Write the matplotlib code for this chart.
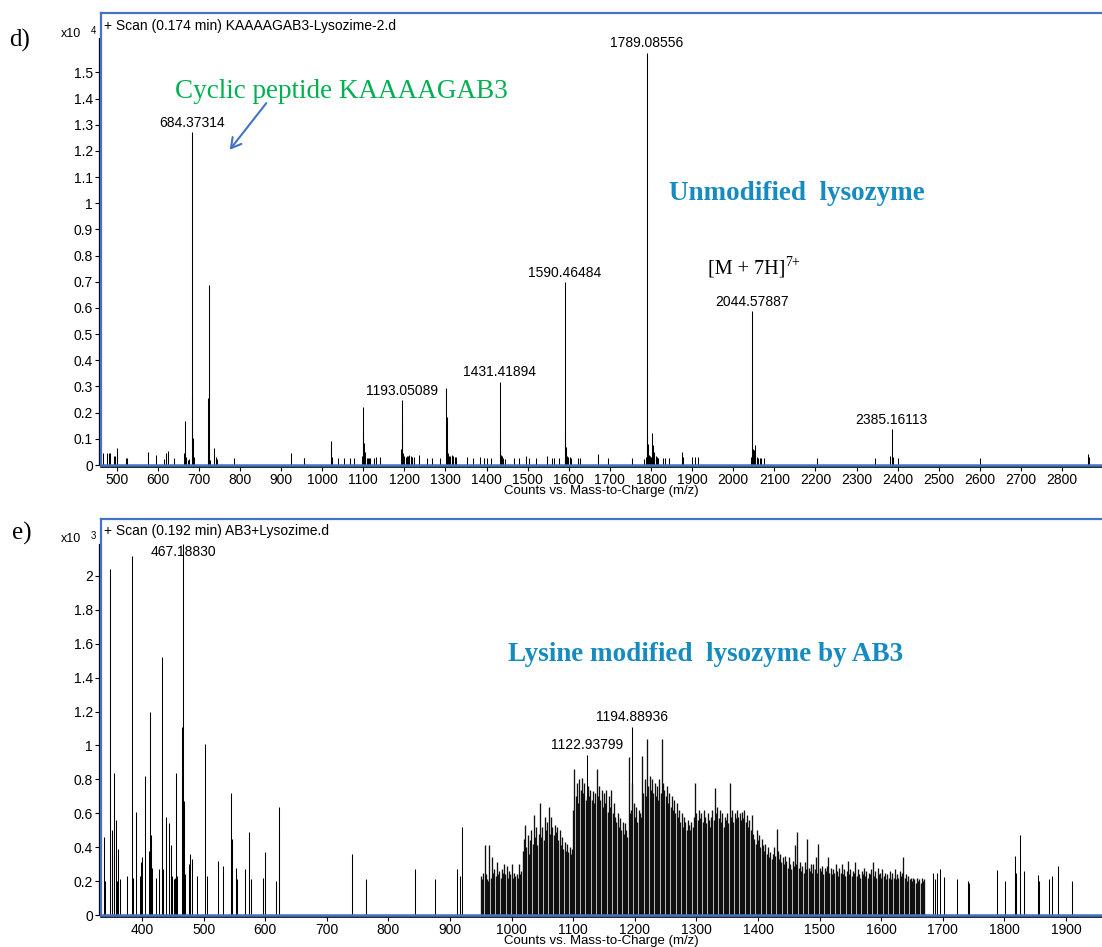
import numpy as np
import matplotlib
matplotlib.use('Agg')
import matplotlib.pyplot as plt
from matplotlib.patches import FancyArrowPatch

W, H = 1102, 947
plt.rcParams['font.family'] = ['Liberation Sans', 'DejaVu Sans']

BLUE = '#4472C4'
GREEN = '#00B050'
TEAL = '#168BC0'

# ---------------- panel d) data (m/z, counts x10^4) ----------------
mz_d = [468, 477, 482, 485, 493, 495, 497, 502, 523, 526,
        577, 597, 615, 620, 626, 639,
        664, 666.5, 668, 673, 677,
        683.4, 684.37314, 685.4, 688,
        722, 723.4, 724.4, 725.4, 728,
        738, 741, 744, 785, 923, 955, 957,
        1021.5, 1022.5, 1024, 1038, 1054, 1067, 1078, 1096,
        1099.6, 1100.5, 1101.5, 1103, 1105, 1108, 1111, 1114, 1117, 1126, 1132, 1140,
        1192.2, 1193.05089, 1194.2, 1195.3, 1197, 1200, 1203, 1206, 1209, 1212, 1215, 1219, 1224, 1236,
        1254, 1267, 1286,
        1300.9, 1301.8, 1302.9, 1304, 1306, 1309, 1312, 1315, 1318, 1322, 1326,
        1352, 1366, 1383, 1394, 1402, 1410,
        1431.41894, 1432.6, 1434, 1437, 1440, 1444,
        1466, 1480, 1495, 1504, 1520, 1546, 1558, 1563, 1577,
        1589.6, 1590.46484, 1591.5, 1592.7, 1594, 1596, 1599, 1602, 1605, 1623, 1628,
        1670, 1695, 1754,
        1784, 1787.5, 1789.08556, 1789.8, 1790.8, 1792, 1793.5, 1795, 1797, 1800, 1802.5, 1804,
        1806, 1808, 1811, 1814, 1818, 1828, 1835, 1844,
        1876, 1878, 1900, 1908, 1915,
        2043.6, 2044.57887, 2045.6, 2047, 2049.5, 2052, 2054, 2057, 2060, 2064, 2068, 2074,
        2203, 2346, 2381, 2385.16113, 2386.5, 2388, 2400, 2600, 2863, 2865]
int_d = [0.045, 0.045, 0.047, 0.047, 0.033, 0.035, 0.030, 0.064, 0.025, 0.025,
         0.050, 0.038, 0.022, 0.047, 0.053, 0.025,
         0.045, 0.168, 0.030, 0.020, 0.023,
         0.264, 1.271, 0.105, 0.030,
         0.035, 0.255, 0.688, 0.065, 0.020,
         0.066, 0.030, 0.022, 0.028, 0.047, 0.028, 0.028,
         0.092, 0.070, 0.030, 0.028, 0.028, 0.028, 0.028, 0.035,
         0.222, 0.127, 0.085, 0.050, 0.030, 0.028, 0.028, 0.028, 0.025, 0.028, 0.030, 0.030,
         0.060, 0.247, 0.175, 0.090, 0.047, 0.035, 0.030, 0.035, 0.035, 0.038, 0.035, 0.030, 0.030, 0.038,
         0.028, 0.028, 0.028,
         0.045, 0.293, 0.182, 0.083, 0.045, 0.035, 0.035, 0.040, 0.035, 0.030, 0.030,
         0.030, 0.028, 0.030, 0.028, 0.028, 0.028,
         0.319, 0.115, 0.040, 0.035, 0.025, 0.022,
         0.025, 0.025, 0.034, 0.028, 0.028, 0.034, 0.025, 0.028, 0.028,
         0.030, 0.698, 0.123, 0.070, 0.045, 0.035, 0.030, 0.030, 0.028, 0.028, 0.028,
         0.042, 0.025, 0.025,
         0.022, 0.030, 1.575, 0.370, 0.120, 0.080, 0.050, 0.040, 0.035, 0.030, 0.124, 0.076,
         0.050, 0.038, 0.035, 0.030, 0.028, 0.028, 0.028, 0.028,
         0.050, 0.030, 0.032, 0.032, 0.032,
         0.030, 0.587, 0.158, 0.060, 0.057, 0.076, 0.040, 0.030, 0.028, 0.028, 0.028, 0.025,
         0.028, 0.028, 0.034, 0.136, 0.047, 0.030, 0.028, 0.028, 0.042, 0.030]
labels_d = [684.37314, 1193.05089, 1431.41894, 1590.46484, 1789.08556, 2044.57887, 2385.16113]

# ---------------- panel e) data (m/z, counts x10^3) ----------------
mz_e_left = [338.5, 339.3, 348.4, 350.9, 351.6, 353.7, 355.0, 357.4, 359.6, 360.6,
             365.0, 376.0, 383.2, 385.0, 390.8, 397.3, 398.9, 399.9, 405.3, 410.7,
             412.3, 413.9, 416.0, 423.0, 427.4, 431.7, 432.8, 434.0, 439.2, 444.6,
             446.4, 447.3, 449.0, 452.0, 454.0, 455.9, 457.0, 465.0, 467.18830, 468.0,
             469.0, 475.8, 477.4, 480.5, 489.0, 502.0, 505.0, 524.0, 531.6, 544.0,
             545.0, 546.2, 552.0, 553.6, 567.0, 574.0, 576.3, 597.0, 599.0, 618.0,
             622.0, 623.0]
int_e_left = [0.46, 0.20, 2.04, 0.50, 0.36, 0.84, 0.20, 0.56, 0.20, 0.39,
              0.21, 0.23, 2.12, 0.22, 0.61, 0.23, 0.31, 0.34, 0.82, 0.38,
              1.20, 0.47, 0.28, 0.22, 0.27, 0.51, 1.52, 0.27, 0.58, 0.54,
              0.33, 0.41, 0.23, 0.21, 0.22, 0.84, 0.23, 1.11, 2.19, 0.67,
              0.24, 0.30, 0.36, 0.33, 0.23, 1.01, 0.23, 0.32, 0.29, 0.72,
              0.36, 0.45, 0.28, 0.21, 0.27, 0.49, 0.21, 0.22, 0.37, 0.20,
              0.64, 0.49]
mz_e_mid = [741.6, 764.0, 843.6, 874.8, 911.6, 917.0, 920.0]
int_e_mid = [0.36, 0.21, 0.27, 0.21, 0.27, 0.23, 0.52]

# unresolved dense envelope 950-1670 (one reading every 2 m/z)
dense_start = 950.0
dense_step = 2.0
dense_int = [
    0.23, 0.21, 0.25, 0.41, 0.24, 0.21, 0.20, 0.41, 0.22, 0.34,
    0.25, 0.27, 0.23, 0.31, 0.24, 0.26, 0.22, 0.27, 0.25, 0.30,
    0.24, 0.29, 0.22, 0.26, 0.24, 0.30, 0.22, 0.25, 0.23, 0.24,
    0.22, 0.30, 0.24, 0.26, 0.38, 0.45, 0.53, 0.40, 0.47, 0.36,
    0.44, 0.50, 0.42, 0.59, 0.46, 0.52, 0.41, 0.48, 0.66, 0.46,
    0.52, 0.44, 0.58, 0.50, 0.55, 0.64, 0.48, 0.58, 0.52, 0.47,
    0.53, 0.49, 0.52, 0.44, 0.50, 0.41, 0.46, 0.39, 0.43, 0.38,
    0.42, 0.37, 0.40, 0.36, 0.39, 0.62, 0.86, 0.70, 0.78, 0.66,
    0.80, 0.74, 0.81, 0.72, 0.78, 0.68, 0.70, 0.76, 0.70, 0.74,
    0.68, 0.73, 0.66, 0.72, 0.86, 0.70, 0.76, 0.68, 0.74, 0.64,
    0.72, 0.66, 0.74, 0.61, 0.70, 0.64, 0.74, 0.60, 0.66, 0.58,
    0.55, 0.60, 0.52, 0.57, 0.50, 0.55, 0.48, 0.54, 0.50, 0.46,
    0.93, 0.60, 0.62, 0.78, 0.66, 0.58, 0.64, 0.55, 0.62, 0.60,
    0.58, 0.94, 0.72, 0.80, 0.70, 1.04, 0.76, 0.82, 0.74, 0.80,
    0.72, 0.78, 0.70, 0.76, 0.68, 0.80, 0.72, 1.04, 0.78, 0.74,
    0.70, 0.76, 0.66, 0.72, 0.64, 0.70, 0.62, 0.68, 0.60, 0.66,
    0.58, 0.62, 0.55, 0.60, 0.52, 0.58, 0.55, 0.50, 0.56, 0.53,
    0.50, 0.55, 0.52, 0.58, 0.78, 0.60, 0.56, 0.62, 0.57, 0.60,
    0.55, 0.62, 0.58, 0.54, 0.60, 0.56, 0.52, 0.58, 0.62, 0.56,
    0.75, 0.60, 0.64, 0.57, 0.62, 0.55, 0.60, 0.52, 0.58, 0.56,
    0.60, 0.54, 0.78, 0.58, 0.62, 0.55, 0.60, 0.57, 0.62, 0.58,
    0.60, 0.56, 0.61, 0.57, 0.62, 0.55, 0.59, 0.52, 0.56, 0.50,
    0.59, 0.48, 0.45, 0.42, 0.50, 0.44, 0.47, 0.40, 0.45, 0.41,
    0.38, 0.42, 0.36, 0.40, 0.34, 0.37, 0.33, 0.36, 0.40, 0.35,
    0.51, 0.38, 0.33, 0.36, 0.31, 0.34, 0.30, 0.35, 0.32, 0.28,
    0.34, 0.30, 0.27, 0.32, 0.29, 0.41, 0.30, 0.49, 0.28, 0.31,
    0.26, 0.29, 0.25, 0.31, 0.27, 0.45, 0.28, 0.26, 0.30, 0.25,
    0.30, 0.27, 0.34, 0.25, 0.42, 0.28, 0.26, 0.29, 0.24, 0.28,
    0.26, 0.29, 0.34, 0.25, 0.28, 0.24, 0.27, 0.25, 0.30, 0.26,
    0.23, 0.28, 0.25, 0.30, 0.24, 0.27, 0.23, 0.26, 0.32, 0.24,
    0.27, 0.23, 0.26, 0.25, 0.31, 0.23, 0.27, 0.24, 0.22, 0.26,
    0.24, 0.28, 0.23, 0.26, 0.22, 0.25, 0.24, 0.27, 0.31, 0.23,
    0.26, 0.22, 0.28, 0.24, 0.25, 0.22, 0.27, 0.23, 0.25, 0.21,
    0.24, 0.22, 0.26, 0.21, 0.25, 0.22, 0.27, 0.21, 0.24, 0.22,
    0.26, 0.23, 0.25, 0.34, 0.22, 0.24, 0.20, 0.23, 0.21, 0.22,
    0.20, 0.22, 0.21, 0.19, 0.22, 0.20, 0.21, 0.19, 0.22, 0.20, 0.21]
mz_e_peaks = [1122.93799, 1194.88936]
int_e_peaks = [0.944, 1.109]

mz_e_right = [1684, 1687.6, 1691, 1696, 1701.6, 1722.7, 1741.6, 1742.6, 1787.6, 1801,
              1817, 1818.2, 1826, 1831, 1854, 1856, 1872, 1877, 1887.6, 1909]
int_e_right = [0.245, 0.215, 0.25, 0.27, 0.225, 0.215, 0.20, 0.19, 0.264, 0.20,
               0.35, 0.25, 0.47, 0.26, 0.235, 0.20, 0.21, 0.23, 0.29, 0.20]
labels_e = [467.18830, 1122.93799, 1194.88936]

assert len(mz_d) == len(int_d)
assert len(mz_e_left) == len(int_e_left)
assert len(mz_e_right) == len(int_e_right)

mz_dense = dense_start + dense_step * np.arange(len(dense_int))
mz_e_sparse = list(mz_e_left) + list(mz_e_mid) + list(mz_e_peaks) + list(mz_e_right)
int_e_sparse = list(int_e_left) + list(int_e_mid) + list(int_e_peaks) + list(int_e_right)

# ---------------- figure ----------------
fig = plt.figure(figsize=(W / 100, H / 100), dpi=100)
FS = 10


def fpx(x, y):
    return x / W, 1 - y / H


ax1 = fig.add_axes([101 / W, 1 - 465 / H, 1 - 101 / W, (465 - 13) / H])
ax2 = fig.add_axes([101 / W, 1 - 915 / H, 1 - 101 / W, (915 - 519) / H])


def style(ax, xlim, ylim, xticks, yticks, ylabels, ytop_black):
    ax.set_xlim(*xlim)
    ax.set_ylim(*ylim)
    ax.set_xticks(xticks)
    ax.set_xticklabels([str(t) for t in xticks])
    ax.set_yticks(yticks)
    ax.set_yticklabels(ylabels)
    ax.spines['top'].set_color(BLUE)
    ax.spines['top'].set_linewidth(1.6)
    ax.spines['right'].set_visible(False)
    ax.spines['left'].set_color('black')
    ax.spines['left'].set_linewidth(0.9)
    ax.spines['left'].set_position(('outward', 1.6))
    ax.spines['left'].set_bounds(0, ytop_black)
    ax.spines['bottom'].set_color('black')
    ax.spines['bottom'].set_linewidth(1.2)
    ax.spines['bottom'].set_position(('outward', 1.6))
    ax.plot([0, 0], [0, 1], transform=ax.transAxes, color=BLUE, lw=1.6,
            clip_on=False, zorder=5)
    ax.plot([0, 1], [0, 0], transform=ax.transAxes, color=BLUE, lw=1.8,
            clip_on=False, zorder=5)
    ax.tick_params(axis='both', direction='out', length=3, width=0.8,
                   labelsize=FS, pad=1.2, colors='black')
    ax.set_xlabel('Counts vs. Mass-to-Charge (m/z)', fontsize=9.5, labelpad=-1.8)


# panel d
ax1.vlines(mz_d, 0, int_d, color='black', lw=0.75)
yt1 = [round(0.1 * i, 1) for i in range(16)]
yl1 = ['0' if v == 0 else ('1' if v == 1 else f'{v:g}') for v in yt1]
style(ax1, (462, 2897), (0, 1.727), list(range(500, 2801, 100)), yt1, yl1, 1.63)
for m in labels_d:
    h = int_d[mz_d.index(m)]
    ax1.annotate(f'{m:.5f}', xy=(m, h), xytext=(0, 2), textcoords='offset points',
                 ha='center', va='bottom', fontsize=FS)

# panel e
ax2.vlines(mz_e_sparse, 0, int_e_sparse, color='black', lw=0.75)
ax2.vlines(mz_dense, 0, dense_int, color='#101010', lw=0.95)
yt2 = [round(0.2 * i, 1) for i in range(11)]
yl2 = ['0' if v == 0 else ('1' if v == 1 else ('2' if v == 2 else f'{v:g}')) for v in yt2]
style(ax2, (333.4, 1958.4), (0, 2.336), list(range(400, 1901, 100)), yt2, yl2, 2.19)
ax2.text(467.18830, 2.14, '467.18830', ha='center', va='center', fontsize=FS)
for m in labels_e[1:]:
    h = int_e_peaks[mz_e_peaks.index(m)]
    ax2.annotate(f'{m:.5f}', xy=(m, h), xytext=(0, 2), textcoords='offset points',
                 ha='center', va='bottom', fontsize=FS)

# headers inside the frames
fig.text(*fpx(104, 26), '+ Scan (0.174 min) KAAAAGAB3-Lysozime-2.d', fontsize=FS,
         ha='left', va='center')
fig.text(*fpx(104, 531), '+ Scan (0.192 min) AB3+Lysozime.d', fontsize=FS,
         ha='left', va='center')

# scale factors
fig.text(*fpx(61, 34), 'x10', fontsize=9, ha='left', va='center')
fig.text(*fpx(91, 31), '4', fontsize=7, ha='left', va='center')
fig.text(*fpx(61, 539), 'x10', fontsize=9, ha='left', va='center')
fig.text(*fpx(91, 536), '3', fontsize=7, ha='left', va='center')

# panel letters
SERIF = ['Liberation Serif', 'DejaVu Serif']
fig.text(*fpx(9, 40), 'd)', fontsize=18, family=SERIF, ha='left', va='center')
fig.text(*fpx(12, 533), 'e)', fontsize=18, family=SERIF, ha='left', va='center')

# annotations
fig.text(*fpx(341, 91), 'Cyclic peptide KAAAAGAB3', fontsize=19.5, family=SERIF,
         color=GREEN, ha='center', va='center')
arrow = FancyArrowPatch(fpx(268, 101), fpx(228, 152), transform=fig.transFigure,
                        arrowstyle='->,head_length=7,head_width=4', color=BLUE,
                        lw=1.5, mutation_scale=1)
fig.add_artist(arrow)
fig.text(*fpx(797, 193), 'Unmodified  lysozyme', fontsize=19.5, family=SERIF,
         weight='bold', color=TEAL, ha='center', va='center')
fig.text(*fpx(708, 269), '[M + 7H]', fontsize=14.5, family=SERIF,
         ha='left', va='center')
fig.text(*fpx(785, 263), '7+', fontsize=10, family=SERIF, ha='left', va='center')
fig.text(*fpx(706, 654), 'Lysine modified  lysozyme by AB3', fontsize=19.5,
         family=SERIF, weight='bold', color=TEAL, ha='center', va='center')

fig.savefig('out.png', dpi=100)
